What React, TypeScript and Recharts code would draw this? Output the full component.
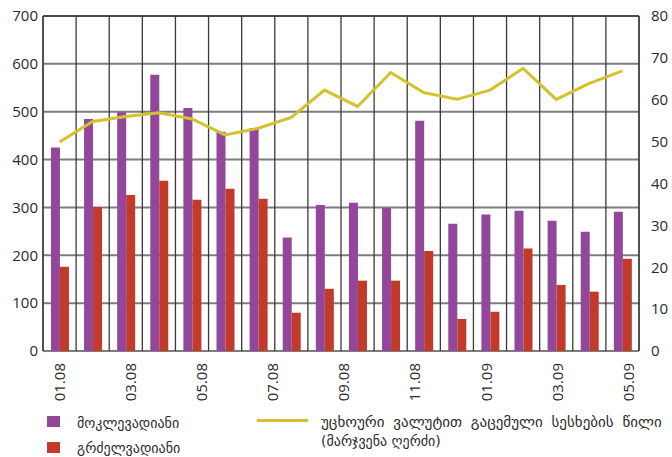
import React from "react";
import {
  ComposedChart,
  Bar,
  Line,
  XAxis,
  YAxis,
  CartesianGrid,
  ReferenceLine,
} from "recharts";

// monthly periods (mm.yy)
const periods = [
  "01.08", "02.08", "03.08", "04.08", "05.08", "06.08", "07.08", "08.08", "09.08",
  "10.08", "11.08", "12.08", "01.09", "02.09", "03.09", "04.09", "05.09", "06.09",
];
const shortTerm = [425, 485, 499, 577, 508, 458, 466, 237, 305, 310, 299, 481, 266, 285, 293, 272, 249, 291];
const longTerm = [176, 301, 326, 356, 316, 339, 318, 80, 130, 147, 147, 209, 67, 82, 214, 138, 124, 193];
const fxShare = [49.9, 54.8, 56.0, 56.9, 55.4, 51.6, 53.2, 55.8, 62.3, 58.4, 66.5, 61.7, 60.1, 62.3, 67.5, 60.1, 63.9, 66.9];

const xLabels = ["01.08", "03.08", "05.08", "07.08", "09.08", "11.08", "01.09", "03.09", "05.09"];
const leftTicks = [0, 100, 200, 300, 400, 500, 600, 700];
const rightTicks = [0, 10, 20, 30, 40, 50, 60, 70, 80];

const PURPLE = "#93479b";
const RED = "#c23a29";
const YELLOW = "#d4c22c";
const TEXT = "#2b2b2b";
const NUM_FONT = "'Open Sans', sans-serif";
const KA_FONT = "'DejaVu Sans', sans-serif";

const data = periods.map((p, i) => ({
  period: p,
  short: shortTerm[i],
  long: longTerm[i],
  share: fxShare[i],
}));

const RotatedTick = (props: any) => {
  const { x, y, payload } = props;
  return (
    <text
      x={x}
      y={y}
      transform={`rotate(-90 ${x} ${y})`}
      textAnchor="end"
      dy="0.36em"
      fill={TEXT}
      fontSize={15}
      fontFamily={NUM_FONT}
    >
      {xLabels[payload.value]}
    </text>
  );
};

export default function App() {
  return (
    <div style={{ position: "absolute", left: 0, top: 0, width: 672, height: 457 }}>
      <ComposedChart
        width={672}
        height={457}
        data={data}
        margin={{ top: 16, right: 0, left: 0, bottom: 46 }}
        barCategoryGap="24%"
        barGap={0}
      >
        <CartesianGrid
          xAxisId="cat"
          yAxisId="left"
          vertical={false}
          stroke="#7d7d7d"
          strokeWidth={2}
        />
        <CartesianGrid
          xAxisId="cat"
          yAxisId="left"
          horizontal={false}
          stroke="#3a3a3a"
          strokeWidth={1.3}
          verticalCoordinatesGenerator={({ offset }: any) =>
            [...periods, "end"].map((_, i) => offset.left + (i * offset.width) / periods.length)
          }
        />
        <XAxis
          xAxisId="cat"
          dataKey="period"
          height={0}
          tick={false}
          tickLine={false}
          axisLine={{ stroke: "#3a3a3a", strokeWidth: 1.3 }}
        />
        {/* label axis: the printed dates sit on their own even spacing */}
        <XAxis
          xAxisId="lbl"
          type="number"
          dataKey="labelSlot"
          domain={[-0.235, 8.15]}
          allowDataOverflow
          ticks={xLabels.map((_, i) => i)}
          interval={0}
          height={60}
          axisLine={false}
          tickLine={false}
          tickSize={0}
          tickMargin={12}
          tick={<RotatedTick />}
        />
        <YAxis
          yAxisId="left"
          domain={[0, 700]}
          ticks={leftTicks}
          width={43}
          tickLine={false}
          tickSize={0}
          tickMargin={5}
          axisLine={{ stroke: "#3a3a3a", strokeWidth: 1.3 }}
          tick={{ fill: TEXT, fontSize: 15, fontFamily: NUM_FONT }}
        />
        <YAxis
          yAxisId="right"
          orientation="right"
          domain={[0, 80]}
          ticks={rightTicks}
          width={33}
          tickLine={false}
          tickSize={0}
          tickMargin={12}
          axisLine={{ stroke: "#3a3a3a", strokeWidth: 1.3 }}
          tick={{ fill: TEXT, fontSize: 15, fontFamily: NUM_FONT, textAnchor: "start" }}
        />
        <ReferenceLine xAxisId="cat" yAxisId="left" y={700} stroke="#3a3a3a" strokeWidth={1.3} />
        <Bar xAxisId="cat" yAxisId="left" dataKey="short" fill={PURPLE} isAnimationActive={false} />
        <Bar xAxisId="cat" yAxisId="left" dataKey="long" fill={RED} isAnimationActive={false} />
        <Line
          xAxisId="cat"
          yAxisId="right"
          dataKey="share"
          stroke={YELLOW}
          strokeWidth={3}
          dot={false}
          type="linear"
          isAnimationActive={false}
        />
      </ComposedChart>

      <div style={{ position: "absolute", left: 47, top: 416, width: 13, height: 11, background: PURPLE }} />
      <div style={{ position: "absolute", left: 47, top: 442, width: 13, height: 11, background: RED }} />
      <div
        style={{
          position: "absolute", left: 77, top: 413, fontFamily: KA_FONT, fontSize: 14,
          color: TEXT, lineHeight: "20px", whiteSpace: "nowrap",
        }}
      >
        მოკლევადიანი
      </div>
      <div
        style={{
          position: "absolute", left: 77, top: 438, fontFamily: KA_FONT, fontSize: 14,
          color: TEXT, lineHeight: "20px", whiteSpace: "nowrap",
        }}
      >
        გრძელვადიანი
      </div>
      <div style={{ position: "absolute", left: 257, top: 419, width: 51, height: 3, background: YELLOW }} />
      <div
        style={{
          position: "absolute", left: 321, top: 413, fontFamily: KA_FONT, fontSize: 14,
          color: TEXT, lineHeight: "19px", whiteSpace: "nowrap",
        }}
      >
        <span style={{ fontSize: 15, wordSpacing: 4 }}>უცხოური ვალუტით გაცემული სესხების წილი</span>
        <br />
        (მარჯვენა ღერძი)
      </div>
    </div>
  );
}
